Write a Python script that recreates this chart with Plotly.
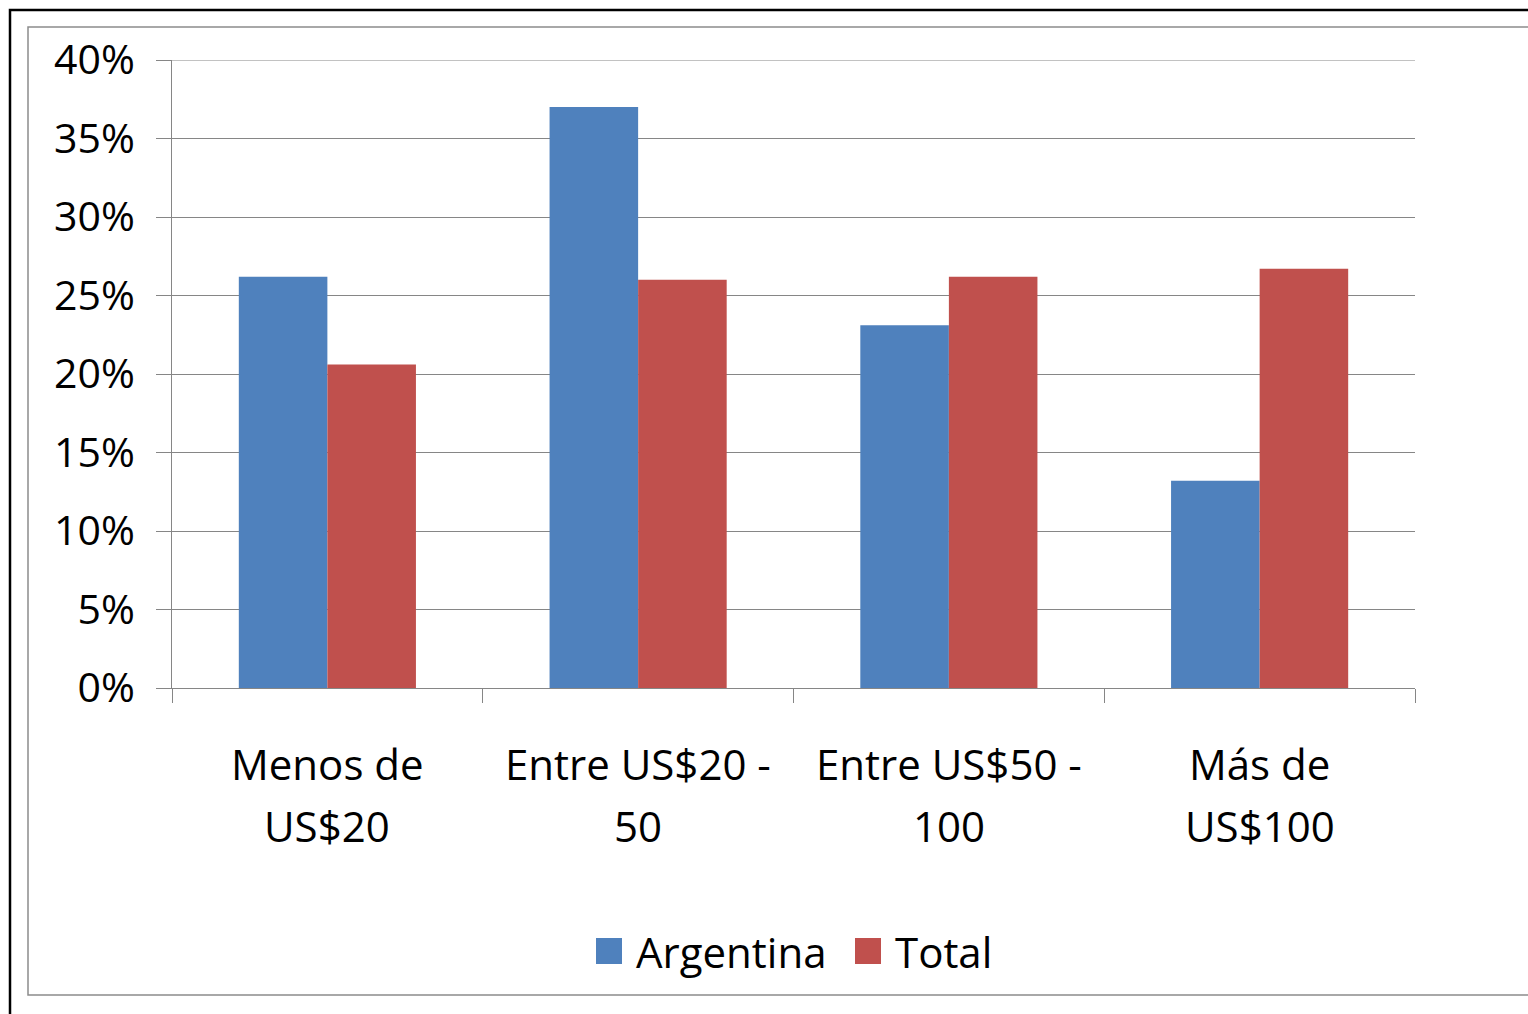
import plotly.graph_objects as go

categories = ["Menos de US$20", "Entre US$20 - 50", "Entre US$50 - 100", "Más de US$100"]
label_line1 = ["Menos de", "Entre US$20 -", "Entre US$50 -", "Más de"]
label_line2 = ["US$20", "50", "100", "US$100"]
series_names = ["Argentina", "Total"]
argentina = [0.262, 0.370, 0.231, 0.132]
total = [0.206, 0.260, 0.262, 0.267]
y_ticks = [0, 0.05, 0.10, 0.15, 0.20, 0.25, 0.30, 0.35, 0.40]
y_labels = ["0%", "5%", "10%", "15%", "20%", "25%", "30%", "35%", "40%"]
colors = ["#4F81BD", "#C0504D"]

W, H = 1528, 1014
L, R, T, B = 172, 1415, 60, 688
FONT = "Open Sans"

def px(x):
    return (x - L) / (R - L)

def py(y):
    return (B - y) / (B - T)

fig = go.Figure()
for name, vals, c in zip(series_names, [argentina, total], colors):
    fig.add_trace(go.Bar(name=name, x=categories, y=vals, marker=dict(color=c, line=dict(width=0)),
                         showlegend=False))

annotations = []
for cat, l1, l2 in zip(categories, label_line1, label_line2):
    annotations.append(dict(x=cat, xref="x", y=py(763), yref="paper", text=l1, showarrow=False,
                            xanchor="center", yanchor="middle", font=dict(size=42)))
    annotations.append(dict(x=cat, xref="x", y=py(825), yref="paper", text=l2, showarrow=False,
                            xanchor="center", yanchor="middle", font=dict(size=42)))

shapes = [
    dict(type="rect", xref="paper", yref="paper", x0=px(10), x1=px(1600), y0=py(1100), y1=py(10),
         line=dict(color="black", width=2.5), fillcolor="rgba(0,0,0,0)", layer="below"),
    dict(type="rect", xref="paper", yref="paper", x0=px(28), x1=px(1600), y0=py(995), y1=py(27),
         line=dict(color="#8c8c8c", width=1.5), fillcolor="rgba(0,0,0,0)", layer="below"),
    # top gridline at the maximum tick
    dict(type="line", xref="paper", yref="y", x0=0, x1=1, y0=y_ticks[-1], y1=y_ticks[-1],
         line=dict(color="#868686", width=1), layer="below"),
]
# manual legend
legend_sq_x = [596, 855]
legend_txt_x = [634, 893]
for name, c, sx, tx in zip(series_names, colors, legend_sq_x, legend_txt_x):
    shapes.append(dict(type="rect", xref="paper", yref="paper", x0=px(sx), x1=px(sx + 26),
                       y0=py(964), y1=py(938), fillcolor=c, line=dict(width=0)))
    annotations.append(dict(x=px(tx), xref="paper", y=py(951), yref="paper", text=name,
                            showarrow=False, xanchor="left", yanchor="middle", font=dict(size=42)))

fig.update_layout(
    width=W, height=H,
    margin=dict(l=L, r=W - R, t=T, b=H - B),
    paper_bgcolor="white", plot_bgcolor="white",
    barmode="group", bargap=0.43, bargroupgap=0,
    font=dict(family=FONT, size=41, color="black"),
    showlegend=False,
    xaxis=dict(
        type="category", tickson="boundaries", ticks="outside", ticklen=14,
        tickcolor="#868686", showline=True, linecolor="#868686", linewidth=1,
        showgrid=False, showticklabels=False,
    ),
    yaxis=dict(
        range=[0, 0.4], tickvals=y_ticks, ticktext=y_labels,
        ticks="outside", ticklen=15, tickcolor="#868686",
        showline=True, linecolor="#868686", linewidth=1,
        showgrid=True, gridcolor="#868686", gridwidth=1,
        zeroline=False, tickfont=dict(size=41), ticklabelstandoff=13,
    ),
    shapes=shapes,
    annotations=annotations,
)

fig.write_html("out.html")
